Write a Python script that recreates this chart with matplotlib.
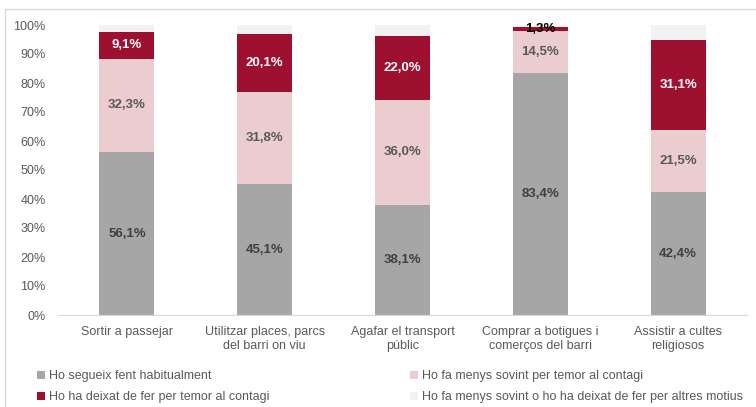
import numpy as np
import matplotlib.pyplot as plt
from matplotlib.patches import Rectangle

plt.rcParams['font.family'] = ['Liberation Sans', 'DejaVu Sans']

categories = ["Sortir a passejar", "Utilitzar places, parcs\ndel barri on viu",
              "Agafar el transport\npúblic", "Comprar a botigues i\ncomerços del barri",
              "Assistir a cultes\nreligiosos"]
habitual = [56.1, 45.1, 38.1, 83.4, 42.4]
menys_temor = [32.3, 31.8, 36.0, 14.5, 21.5]
deixat_temor = [9.1, 20.1, 22.0, 1.3, 31.1]
altres = [2.5, 3.0, 3.9, 0.8, 5.0]

series_names = ["Ho segueix fent habitualment",
                "Ho fa menys sovint per temor al contagi",
                "Ho ha deixat de fer per temor al contagi",
                "Ho fa menys sovint o ho ha deixat de fer per altres motius"]
colors = ["#A6A6A6", "#EBCDCF", "#9E1030", "#F2F2F2"]
text_colors = ["#404040", "#595959", "white", None]

W, H = 756, 407
fig = plt.figure(figsize=(W / 100, H / 100), dpi=100)
ax = fig.add_axes([58 / W, 1 - 315 / H, 689 / W, 290 / H])

x = np.arange(len(categories))
bottom = np.zeros(len(categories))
handles = []
for i, vals in enumerate([habitual, menys_temor, deixat_temor, altres]):
    vals = np.array(vals)
    b = ax.bar(x, vals, 0.40, bottom=bottom, color=colors[i], label=series_names[i])
    handles.append(b)
    if text_colors[i] is not None:
        for xi, v, bt in zip(x, vals, bottom):
            c = text_colors[i]
            if v < 3:
                c = "black"
            ax.text(xi, bt + v / 2, f"{v:.1f}%".replace(".", ","), ha="center", va="center",
                    fontsize=9.5, fontweight="bold", color=c)
    bottom += vals

ax.set_xlim(-0.5, len(categories) - 0.5)
ax.set_ylim(0, 100)
ax.set_yticks(np.arange(0, 101, 10))
ax.set_yticklabels([f"{t}%" for t in range(0, 101, 10)])
ax.set_xticks(x)
ax.set_xticklabels(categories)
ax.tick_params(axis="both", length=0, colors="#595959", labelsize=9)
ax.tick_params(axis="y", pad=9)
ax.tick_params(axis="x", pad=8)
for s in ["top", "right", "left"]:
    ax.spines[s].set_visible(False)
ax.spines["bottom"].set_color("#D9D9D9")

# two legend columns, placed separately
for cols, xpos in [([0, 2], 37), ([1, 3], 410)]:
    leg = fig.legend([handles[k] for k in cols], [series_names[k] for k in cols],
                     loc="upper left", bbox_to_anchor=(xpos / W, 1 - 370 / H),
                     borderaxespad=0, borderpad=0, frameon=False, fontsize=9,
                     handlelength=0.6, handleheight=0.6, handletextpad=0.35,
                     labelspacing=0.75)
    for t in leg.get_texts():
        t.set_color("#595959")

fig.patches.append(Rectangle((5 / W, -0.01), 1, 1 - 9 / H + 0.01,
                             transform=fig.transFigure, fill=False,
                             edgecolor="#D9D9D9", linewidth=1))

fig.savefig("out.png", dpi=100)
